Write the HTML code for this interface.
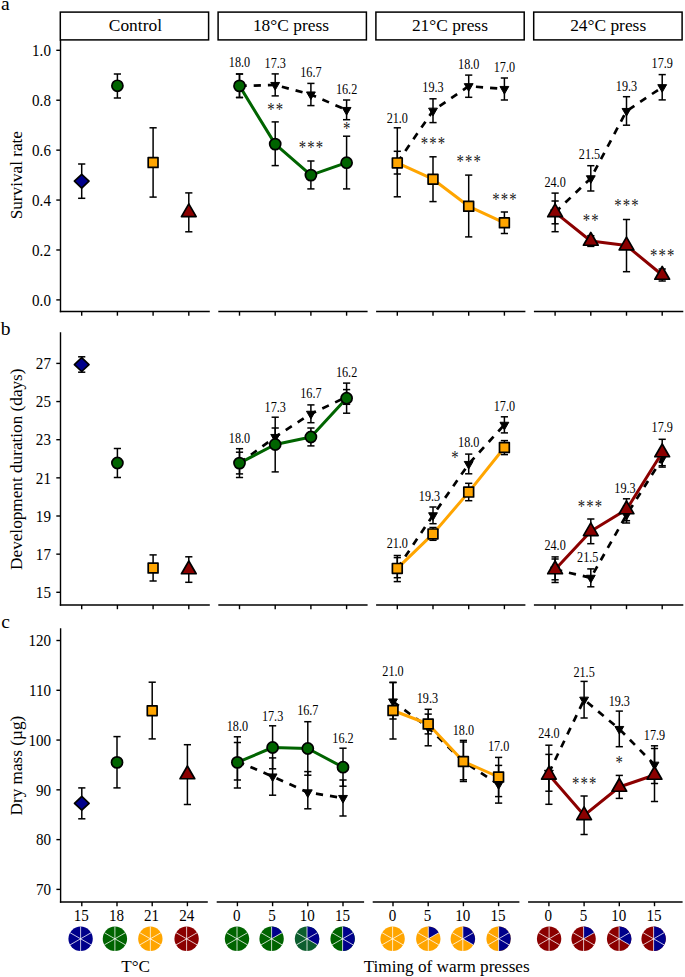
<!DOCTYPE html><html><head><meta charset="utf-8"><style>html,body{margin:0;padding:0;background:#fff;}svg{display:block;}</style></head><body>
<svg width="685" height="977" viewBox="0 0 685 977" font-family='"Liberation Serif", serif' fill="#000">
<rect width="685" height="977" fill="#fff"/>
<text x="1.00" y="9.60" font-size="19.5" text-anchor="start" >a</text>
<text x="0.80" y="334.60" font-size="19.5" text-anchor="start" >b</text>
<text x="1.20" y="627.50" font-size="19.5" text-anchor="start" >c</text>
<rect x="60.30" y="12.1" width="148.30" height="27.8" fill="#fff" stroke="#000" stroke-width="1.5"/>
<text x="135.40" y="30.80" font-size="17.4" text-anchor="middle" >Control</text>
<rect x="218.10" y="12.1" width="148.30" height="27.8" fill="#fff" stroke="#000" stroke-width="1.5"/>
<text x="290.95" y="30.80" font-size="17.4" text-anchor="middle" >18°C press</text>
<rect x="375.90" y="12.1" width="148.30" height="27.8" fill="#fff" stroke="#000" stroke-width="1.5"/>
<text x="449.90" y="30.80" font-size="17.4" text-anchor="middle" >21°C press</text>
<rect x="533.70" y="12.1" width="148.40" height="27.8" fill="#fff" stroke="#000" stroke-width="1.5"/>
<text x="608.15" y="30.80" font-size="17.4" text-anchor="middle" >24°C press</text>
<line x1="60.50" y1="40.00" x2="60.50" y2="312.20" stroke="#000" stroke-width="1.4" stroke-linecap="butt"/>
<line x1="56.30" y1="299.90" x2="60.50" y2="299.90" stroke="#000" stroke-width="1.4" />
<text transform="translate(50.90,305.65) scale(0.93,1)" font-size="16.2" text-anchor="end">0.0</text>
<line x1="56.30" y1="249.98" x2="60.50" y2="249.98" stroke="#000" stroke-width="1.4" />
<text transform="translate(50.90,255.73) scale(0.93,1)" font-size="16.2" text-anchor="end">0.2</text>
<line x1="56.30" y1="200.06" x2="60.50" y2="200.06" stroke="#000" stroke-width="1.4" />
<text transform="translate(50.90,205.81) scale(0.93,1)" font-size="16.2" text-anchor="end">0.4</text>
<line x1="56.30" y1="150.14" x2="60.50" y2="150.14" stroke="#000" stroke-width="1.4" />
<text transform="translate(50.90,155.89) scale(0.93,1)" font-size="16.2" text-anchor="end">0.6</text>
<line x1="56.30" y1="100.22" x2="60.50" y2="100.22" stroke="#000" stroke-width="1.4" />
<text transform="translate(50.90,105.97) scale(0.93,1)" font-size="16.2" text-anchor="end">0.8</text>
<line x1="56.30" y1="50.30" x2="60.50" y2="50.30" stroke="#000" stroke-width="1.4" />
<text transform="translate(50.90,56.05) scale(0.93,1)" font-size="16.2" text-anchor="end">1.0</text>
<line x1="59.80" y1="311.50" x2="209.80" y2="311.50" stroke="#000" stroke-width="1.4" />
<line x1="81.70" y1="311.50" x2="81.70" y2="315.70" stroke="#000" stroke-width="1.4" />
<line x1="117.40" y1="311.50" x2="117.40" y2="315.70" stroke="#000" stroke-width="1.4" />
<line x1="153.10" y1="311.50" x2="153.10" y2="315.70" stroke="#000" stroke-width="1.4" />
<line x1="188.80" y1="311.50" x2="188.80" y2="315.70" stroke="#000" stroke-width="1.4" />
<line x1="218.30" y1="311.50" x2="367.60" y2="311.50" stroke="#000" stroke-width="1.4" />
<line x1="239.50" y1="311.50" x2="239.50" y2="315.70" stroke="#000" stroke-width="1.4" />
<line x1="275.20" y1="311.50" x2="275.20" y2="315.70" stroke="#000" stroke-width="1.4" />
<line x1="310.90" y1="311.50" x2="310.90" y2="315.70" stroke="#000" stroke-width="1.4" />
<line x1="346.60" y1="311.50" x2="346.60" y2="315.70" stroke="#000" stroke-width="1.4" />
<line x1="376.10" y1="311.50" x2="525.40" y2="311.50" stroke="#000" stroke-width="1.4" />
<line x1="397.30" y1="311.50" x2="397.30" y2="315.70" stroke="#000" stroke-width="1.4" />
<line x1="433.00" y1="311.50" x2="433.00" y2="315.70" stroke="#000" stroke-width="1.4" />
<line x1="468.70" y1="311.50" x2="468.70" y2="315.70" stroke="#000" stroke-width="1.4" />
<line x1="504.40" y1="311.50" x2="504.40" y2="315.70" stroke="#000" stroke-width="1.4" />
<line x1="533.90" y1="311.50" x2="683.30" y2="311.50" stroke="#000" stroke-width="1.4" />
<line x1="555.10" y1="311.50" x2="555.10" y2="315.70" stroke="#000" stroke-width="1.4" />
<line x1="590.80" y1="311.50" x2="590.80" y2="315.70" stroke="#000" stroke-width="1.4" />
<line x1="626.50" y1="311.50" x2="626.50" y2="315.70" stroke="#000" stroke-width="1.4" />
<line x1="662.20" y1="311.50" x2="662.20" y2="315.70" stroke="#000" stroke-width="1.4" />
<line x1="81.70" y1="164.00" x2="81.70" y2="198.30" stroke="#000" stroke-width="1.5" />
<line x1="78.10" y1="164.00" x2="85.30" y2="164.00" stroke="#000" stroke-width="1.5" />
<line x1="78.10" y1="198.30" x2="85.30" y2="198.30" stroke="#000" stroke-width="1.5" />
<line x1="117.40" y1="74.00" x2="117.40" y2="98.00" stroke="#000" stroke-width="1.5" />
<line x1="113.80" y1="74.00" x2="121.00" y2="74.00" stroke="#000" stroke-width="1.5" />
<line x1="113.80" y1="98.00" x2="121.00" y2="98.00" stroke="#000" stroke-width="1.5" />
<line x1="153.10" y1="127.80" x2="153.10" y2="197.10" stroke="#000" stroke-width="1.5" />
<line x1="149.50" y1="127.80" x2="156.70" y2="127.80" stroke="#000" stroke-width="1.5" />
<line x1="149.50" y1="197.10" x2="156.70" y2="197.10" stroke="#000" stroke-width="1.5" />
<line x1="188.80" y1="192.90" x2="188.80" y2="231.80" stroke="#000" stroke-width="1.5" />
<line x1="185.20" y1="192.90" x2="192.40" y2="192.90" stroke="#000" stroke-width="1.5" />
<line x1="185.20" y1="231.80" x2="192.40" y2="231.80" stroke="#000" stroke-width="1.5" />
<path d="M81.70,174.30L89.00,181.20L81.70,188.10L74.40,181.20Z" fill="#00008b" stroke="#000" stroke-width="1.7" stroke-linejoin="round"/>
<circle cx="117.40" cy="85.80" r="5.55" fill="#006400" stroke="#000" stroke-width="1.7"/>
<rect x="148.20" y="157.60" width="9.80" height="9.80" fill="#ffa500" stroke="#000" stroke-width="1.7" stroke-linejoin="round"/>
<path d="M188.80,203.80L196.16,216.55L181.44,216.55Z" fill="#8b0000" stroke="#000" stroke-width="1.7" stroke-linejoin="round"/>
<path d="M239.50,85.90 L275.20,85.00 L310.90,94.50 L346.60,110.00" fill="none" stroke="#000" stroke-width="2.7" stroke-dasharray="7.2 7" stroke-linejoin="round"/>
<line x1="239.50" y1="74.00" x2="239.50" y2="97.50" stroke="#000" stroke-width="1.5" />
<line x1="235.90" y1="74.00" x2="243.10" y2="74.00" stroke="#000" stroke-width="1.5" />
<line x1="235.90" y1="97.50" x2="243.10" y2="97.50" stroke="#000" stroke-width="1.5" />
<line x1="275.20" y1="73.90" x2="275.20" y2="95.90" stroke="#000" stroke-width="1.5" />
<line x1="271.60" y1="73.90" x2="278.80" y2="73.90" stroke="#000" stroke-width="1.5" />
<line x1="271.60" y1="95.90" x2="278.80" y2="95.90" stroke="#000" stroke-width="1.5" />
<line x1="310.90" y1="83.40" x2="310.90" y2="105.60" stroke="#000" stroke-width="1.5" />
<line x1="307.30" y1="83.40" x2="314.50" y2="83.40" stroke="#000" stroke-width="1.5" />
<line x1="307.30" y1="105.60" x2="314.50" y2="105.60" stroke="#000" stroke-width="1.5" />
<line x1="346.60" y1="100.00" x2="346.60" y2="119.70" stroke="#000" stroke-width="1.5" />
<line x1="343.00" y1="100.00" x2="350.20" y2="100.00" stroke="#000" stroke-width="1.5" />
<line x1="343.00" y1="119.70" x2="350.20" y2="119.70" stroke="#000" stroke-width="1.5" />
<path d="M239.50,91.00L243.92,83.35L235.08,83.35Z" fill="#000" stroke="#000" stroke-width="1" stroke-linejoin="round"/>
<path d="M275.20,90.10L279.62,82.45L270.78,82.45Z" fill="#000" stroke="#000" stroke-width="1" stroke-linejoin="round"/>
<path d="M310.90,99.60L315.32,91.95L306.48,91.95Z" fill="#000" stroke="#000" stroke-width="1" stroke-linejoin="round"/>
<path d="M346.60,115.10L351.02,107.45L342.18,107.45Z" fill="#000" stroke="#000" stroke-width="1" stroke-linejoin="round"/>
<path d="M239.50,85.90 L275.20,144.10 L310.90,175.10 L346.60,162.70" fill="none" stroke="#006400" stroke-width="3.0" stroke-linejoin="round"/>
<line x1="239.50" y1="74.00" x2="239.50" y2="97.50" stroke="#000" stroke-width="1.5" />
<line x1="235.90" y1="74.00" x2="243.10" y2="74.00" stroke="#000" stroke-width="1.5" />
<line x1="235.90" y1="97.50" x2="243.10" y2="97.50" stroke="#000" stroke-width="1.5" />
<line x1="275.20" y1="121.90" x2="275.20" y2="165.60" stroke="#000" stroke-width="1.5" />
<line x1="271.60" y1="121.90" x2="278.80" y2="121.90" stroke="#000" stroke-width="1.5" />
<line x1="271.60" y1="165.60" x2="278.80" y2="165.60" stroke="#000" stroke-width="1.5" />
<line x1="310.90" y1="161.00" x2="310.90" y2="188.90" stroke="#000" stroke-width="1.5" />
<line x1="307.30" y1="161.00" x2="314.50" y2="161.00" stroke="#000" stroke-width="1.5" />
<line x1="307.30" y1="188.90" x2="314.50" y2="188.90" stroke="#000" stroke-width="1.5" />
<line x1="346.60" y1="136.20" x2="346.60" y2="188.90" stroke="#000" stroke-width="1.5" />
<line x1="343.00" y1="136.20" x2="350.20" y2="136.20" stroke="#000" stroke-width="1.5" />
<line x1="343.00" y1="188.90" x2="350.20" y2="188.90" stroke="#000" stroke-width="1.5" />
<circle cx="239.50" cy="85.90" r="5.55" fill="#006400" stroke="#000" stroke-width="1.7"/>
<circle cx="275.20" cy="144.10" r="5.55" fill="#006400" stroke="#000" stroke-width="1.7"/>
<circle cx="310.90" cy="175.10" r="5.55" fill="#006400" stroke="#000" stroke-width="1.7"/>
<circle cx="346.60" cy="162.70" r="5.55" fill="#006400" stroke="#000" stroke-width="1.7"/>
<text transform="translate(239.50,67.22) scale(0.87,1)" font-size="14.0" text-anchor="middle">18.0</text>
<text transform="translate(275.20,67.72) scale(0.87,1)" font-size="14.0" text-anchor="middle">17.3</text>
<text transform="translate(310.90,77.42) scale(0.87,1)" font-size="14.0" text-anchor="middle">16.7</text>
<text transform="translate(346.60,93.92) scale(0.87,1)" font-size="14.0" text-anchor="middle">16.2</text>
<text transform="translate(270.95,115.59) scale(0.82,1)" font-size="18.0" text-anchor="middle" fill="#222">*</text>
<text transform="translate(279.45,115.59) scale(0.82,1)" font-size="18.0" text-anchor="middle" fill="#222">*</text>
<text transform="translate(302.40,153.99) scale(0.82,1)" font-size="18.0" text-anchor="middle" fill="#222">*</text>
<text transform="translate(310.90,153.99) scale(0.82,1)" font-size="18.0" text-anchor="middle" fill="#222">*</text>
<text transform="translate(319.40,153.99) scale(0.82,1)" font-size="18.0" text-anchor="middle" fill="#222">*</text>
<text transform="translate(346.60,135.49) scale(0.82,1)" font-size="18.0" text-anchor="middle" fill="#222">*</text>
<path d="M397.30,162.70 L433.00,110.70 L468.70,86.20 L504.40,89.00" fill="none" stroke="#000" stroke-width="2.7" stroke-dasharray="7.2 7" stroke-linejoin="round"/>
<line x1="397.30" y1="151.30" x2="397.30" y2="174.00" stroke="#000" stroke-width="1.5" />
<line x1="393.70" y1="151.30" x2="400.90" y2="151.30" stroke="#000" stroke-width="1.5" />
<line x1="393.70" y1="174.00" x2="400.90" y2="174.00" stroke="#000" stroke-width="1.5" />
<line x1="433.00" y1="98.80" x2="433.00" y2="122.60" stroke="#000" stroke-width="1.5" />
<line x1="429.40" y1="98.80" x2="436.60" y2="98.80" stroke="#000" stroke-width="1.5" />
<line x1="429.40" y1="122.60" x2="436.60" y2="122.60" stroke="#000" stroke-width="1.5" />
<line x1="468.70" y1="75.10" x2="468.70" y2="97.30" stroke="#000" stroke-width="1.5" />
<line x1="465.10" y1="75.10" x2="472.30" y2="75.10" stroke="#000" stroke-width="1.5" />
<line x1="465.10" y1="97.30" x2="472.30" y2="97.30" stroke="#000" stroke-width="1.5" />
<line x1="504.40" y1="78.00" x2="504.40" y2="100.00" stroke="#000" stroke-width="1.5" />
<line x1="500.80" y1="78.00" x2="508.00" y2="78.00" stroke="#000" stroke-width="1.5" />
<line x1="500.80" y1="100.00" x2="508.00" y2="100.00" stroke="#000" stroke-width="1.5" />
<path d="M397.30,167.80L401.72,160.15L392.88,160.15Z" fill="#000" stroke="#000" stroke-width="1" stroke-linejoin="round"/>
<path d="M433.00,115.80L437.42,108.15L428.58,108.15Z" fill="#000" stroke="#000" stroke-width="1" stroke-linejoin="round"/>
<path d="M468.70,91.30L473.12,83.65L464.28,83.65Z" fill="#000" stroke="#000" stroke-width="1" stroke-linejoin="round"/>
<path d="M504.40,94.10L508.82,86.45L499.98,86.45Z" fill="#000" stroke="#000" stroke-width="1" stroke-linejoin="round"/>
<path d="M397.30,162.90 L433.00,179.20 L468.70,206.30 L504.40,222.80" fill="none" stroke="#ffa500" stroke-width="3.0" stroke-linejoin="round"/>
<line x1="397.30" y1="127.80" x2="397.30" y2="196.80" stroke="#000" stroke-width="1.5" />
<line x1="393.70" y1="127.80" x2="400.90" y2="127.80" stroke="#000" stroke-width="1.5" />
<line x1="393.70" y1="196.80" x2="400.90" y2="196.80" stroke="#000" stroke-width="1.5" />
<line x1="433.00" y1="156.80" x2="433.00" y2="201.60" stroke="#000" stroke-width="1.5" />
<line x1="429.40" y1="156.80" x2="436.60" y2="156.80" stroke="#000" stroke-width="1.5" />
<line x1="429.40" y1="201.60" x2="436.60" y2="201.60" stroke="#000" stroke-width="1.5" />
<line x1="468.70" y1="175.10" x2="468.70" y2="236.90" stroke="#000" stroke-width="1.5" />
<line x1="465.10" y1="175.10" x2="472.30" y2="175.10" stroke="#000" stroke-width="1.5" />
<line x1="465.10" y1="236.90" x2="472.30" y2="236.90" stroke="#000" stroke-width="1.5" />
<line x1="504.40" y1="212.00" x2="504.40" y2="233.50" stroke="#000" stroke-width="1.5" />
<line x1="500.80" y1="212.00" x2="508.00" y2="212.00" stroke="#000" stroke-width="1.5" />
<line x1="500.80" y1="233.50" x2="508.00" y2="233.50" stroke="#000" stroke-width="1.5" />
<rect x="392.40" y="158.00" width="9.80" height="9.80" fill="#ffa500" stroke="#000" stroke-width="1.7" stroke-linejoin="round"/>
<rect x="428.10" y="174.30" width="9.80" height="9.80" fill="#ffa500" stroke="#000" stroke-width="1.7" stroke-linejoin="round"/>
<rect x="463.80" y="201.40" width="9.80" height="9.80" fill="#ffa500" stroke="#000" stroke-width="1.7" stroke-linejoin="round"/>
<rect x="499.50" y="217.90" width="9.80" height="9.80" fill="#ffa500" stroke="#000" stroke-width="1.7" stroke-linejoin="round"/>
<text transform="translate(397.30,122.62) scale(0.87,1)" font-size="14.0" text-anchor="middle">21.0</text>
<text transform="translate(433.00,91.62) scale(0.87,1)" font-size="14.0" text-anchor="middle">19.3</text>
<text transform="translate(468.70,69.02) scale(0.87,1)" font-size="14.0" text-anchor="middle">18.0</text>
<text transform="translate(504.40,72.22) scale(0.87,1)" font-size="14.0" text-anchor="middle">17.0</text>
<text transform="translate(424.50,150.19) scale(0.82,1)" font-size="18.0" text-anchor="middle" fill="#222">*</text>
<text transform="translate(433.00,150.19) scale(0.82,1)" font-size="18.0" text-anchor="middle" fill="#222">*</text>
<text transform="translate(441.50,150.19) scale(0.82,1)" font-size="18.0" text-anchor="middle" fill="#222">*</text>
<text transform="translate(460.20,168.29) scale(0.82,1)" font-size="18.0" text-anchor="middle" fill="#222">*</text>
<text transform="translate(468.70,168.29) scale(0.82,1)" font-size="18.0" text-anchor="middle" fill="#222">*</text>
<text transform="translate(477.20,168.29) scale(0.82,1)" font-size="18.0" text-anchor="middle" fill="#222">*</text>
<text transform="translate(495.90,205.59) scale(0.82,1)" font-size="18.0" text-anchor="middle" fill="#222">*</text>
<text transform="translate(504.40,205.59) scale(0.82,1)" font-size="18.0" text-anchor="middle" fill="#222">*</text>
<text transform="translate(512.90,205.59) scale(0.82,1)" font-size="18.0" text-anchor="middle" fill="#222">*</text>
<path d="M555.10,212.40 L590.80,178.30 L626.50,111.00 L662.20,87.20" fill="none" stroke="#000" stroke-width="2.7" stroke-dasharray="7.2 7" stroke-linejoin="round"/>
<line x1="555.10" y1="201.00" x2="555.10" y2="223.80" stroke="#000" stroke-width="1.5" />
<line x1="551.50" y1="201.00" x2="558.70" y2="201.00" stroke="#000" stroke-width="1.5" />
<line x1="551.50" y1="223.80" x2="558.70" y2="223.80" stroke="#000" stroke-width="1.5" />
<line x1="590.80" y1="165.70" x2="590.80" y2="191.00" stroke="#000" stroke-width="1.5" />
<line x1="587.20" y1="165.70" x2="594.40" y2="165.70" stroke="#000" stroke-width="1.5" />
<line x1="587.20" y1="191.00" x2="594.40" y2="191.00" stroke="#000" stroke-width="1.5" />
<line x1="626.50" y1="96.70" x2="626.50" y2="125.20" stroke="#000" stroke-width="1.5" />
<line x1="622.90" y1="96.70" x2="630.10" y2="96.70" stroke="#000" stroke-width="1.5" />
<line x1="622.90" y1="125.20" x2="630.10" y2="125.20" stroke="#000" stroke-width="1.5" />
<line x1="662.20" y1="74.60" x2="662.20" y2="99.90" stroke="#000" stroke-width="1.5" />
<line x1="658.60" y1="74.60" x2="665.80" y2="74.60" stroke="#000" stroke-width="1.5" />
<line x1="658.60" y1="99.90" x2="665.80" y2="99.90" stroke="#000" stroke-width="1.5" />
<path d="M555.10,217.50L559.52,209.85L550.68,209.85Z" fill="#000" stroke="#000" stroke-width="1" stroke-linejoin="round"/>
<path d="M590.80,183.40L595.22,175.75L586.38,175.75Z" fill="#000" stroke="#000" stroke-width="1" stroke-linejoin="round"/>
<path d="M626.50,116.10L630.92,108.45L622.08,108.45Z" fill="#000" stroke="#000" stroke-width="1" stroke-linejoin="round"/>
<path d="M662.20,92.30L666.62,84.65L657.78,84.65Z" fill="#000" stroke="#000" stroke-width="1" stroke-linejoin="round"/>
<path d="M555.10,212.40 L590.80,241.00 L626.50,245.60 L662.20,275.00" fill="none" stroke="#8b0000" stroke-width="3.0" stroke-linejoin="round"/>
<line x1="555.10" y1="193.10" x2="555.10" y2="231.70" stroke="#000" stroke-width="1.5" />
<line x1="551.50" y1="193.10" x2="558.70" y2="193.10" stroke="#000" stroke-width="1.5" />
<line x1="551.50" y1="231.70" x2="558.70" y2="231.70" stroke="#000" stroke-width="1.5" />
<line x1="590.80" y1="235.70" x2="590.80" y2="246.40" stroke="#000" stroke-width="1.5" />
<line x1="587.20" y1="235.70" x2="594.40" y2="235.70" stroke="#000" stroke-width="1.5" />
<line x1="587.20" y1="246.40" x2="594.40" y2="246.40" stroke="#000" stroke-width="1.5" />
<line x1="626.50" y1="219.50" x2="626.50" y2="271.70" stroke="#000" stroke-width="1.5" />
<line x1="622.90" y1="219.50" x2="630.10" y2="219.50" stroke="#000" stroke-width="1.5" />
<line x1="622.90" y1="271.70" x2="630.10" y2="271.70" stroke="#000" stroke-width="1.5" />
<line x1="662.20" y1="269.00" x2="662.20" y2="281.00" stroke="#000" stroke-width="1.5" />
<line x1="658.60" y1="269.00" x2="665.80" y2="269.00" stroke="#000" stroke-width="1.5" />
<line x1="658.60" y1="281.00" x2="665.80" y2="281.00" stroke="#000" stroke-width="1.5" />
<path d="M555.10,203.90L562.46,216.65L547.74,216.65Z" fill="#8b0000" stroke="#000" stroke-width="1.7" stroke-linejoin="round"/>
<path d="M590.80,232.50L598.16,245.25L583.44,245.25Z" fill="#8b0000" stroke="#000" stroke-width="1.7" stroke-linejoin="round"/>
<path d="M626.50,237.10L633.86,249.85L619.14,249.85Z" fill="#8b0000" stroke="#000" stroke-width="1.7" stroke-linejoin="round"/>
<path d="M662.20,266.50L669.56,279.25L654.84,279.25Z" fill="#8b0000" stroke="#000" stroke-width="1.7" stroke-linejoin="round"/>
<text transform="translate(555.10,187.12) scale(0.87,1)" font-size="14.0" text-anchor="middle">24.0</text>
<text transform="translate(589.50,159.12) scale(0.87,1)" font-size="14.0" text-anchor="middle">21.5</text>
<text transform="translate(626.50,91.22) scale(0.87,1)" font-size="14.0" text-anchor="middle">19.3</text>
<text transform="translate(662.20,68.02) scale(0.87,1)" font-size="14.0" text-anchor="middle">17.9</text>
<text transform="translate(586.55,226.59) scale(0.82,1)" font-size="18.0" text-anchor="middle" fill="#222">*</text>
<text transform="translate(595.05,226.59) scale(0.82,1)" font-size="18.0" text-anchor="middle" fill="#222">*</text>
<text transform="translate(618.00,212.49) scale(0.82,1)" font-size="18.0" text-anchor="middle" fill="#222">*</text>
<text transform="translate(626.50,212.49) scale(0.82,1)" font-size="18.0" text-anchor="middle" fill="#222">*</text>
<text transform="translate(635.00,212.49) scale(0.82,1)" font-size="18.0" text-anchor="middle" fill="#222">*</text>
<text transform="translate(653.70,261.99) scale(0.82,1)" font-size="18.0" text-anchor="middle" fill="#222">*</text>
<text transform="translate(662.20,261.99) scale(0.82,1)" font-size="18.0" text-anchor="middle" fill="#222">*</text>
<text transform="translate(670.70,261.99) scale(0.82,1)" font-size="18.0" text-anchor="middle" fill="#222">*</text>
<line x1="60.50" y1="332.30" x2="60.50" y2="605.70" stroke="#000" stroke-width="1.4" stroke-linecap="butt"/>
<line x1="56.30" y1="592.30" x2="60.50" y2="592.30" stroke="#000" stroke-width="1.4" />
<text transform="translate(50.90,598.05) scale(0.93,1)" font-size="16.2" text-anchor="end">15</text>
<line x1="56.30" y1="554.15" x2="60.50" y2="554.15" stroke="#000" stroke-width="1.4" />
<text transform="translate(50.90,559.90) scale(0.93,1)" font-size="16.2" text-anchor="end">17</text>
<line x1="56.30" y1="516.00" x2="60.50" y2="516.00" stroke="#000" stroke-width="1.4" />
<text transform="translate(50.90,521.75) scale(0.93,1)" font-size="16.2" text-anchor="end">19</text>
<line x1="56.30" y1="477.85" x2="60.50" y2="477.85" stroke="#000" stroke-width="1.4" />
<text transform="translate(50.90,483.60) scale(0.93,1)" font-size="16.2" text-anchor="end">21</text>
<line x1="56.30" y1="439.70" x2="60.50" y2="439.70" stroke="#000" stroke-width="1.4" />
<text transform="translate(50.90,445.45) scale(0.93,1)" font-size="16.2" text-anchor="end">23</text>
<line x1="56.30" y1="401.55" x2="60.50" y2="401.55" stroke="#000" stroke-width="1.4" />
<text transform="translate(50.90,407.30) scale(0.93,1)" font-size="16.2" text-anchor="end">25</text>
<line x1="56.30" y1="363.40" x2="60.50" y2="363.40" stroke="#000" stroke-width="1.4" />
<text transform="translate(50.90,369.15) scale(0.93,1)" font-size="16.2" text-anchor="end">27</text>
<line x1="59.80" y1="605.00" x2="209.80" y2="605.00" stroke="#000" stroke-width="1.4" />
<line x1="81.70" y1="605.00" x2="81.70" y2="609.20" stroke="#000" stroke-width="1.4" />
<line x1="117.40" y1="605.00" x2="117.40" y2="609.20" stroke="#000" stroke-width="1.4" />
<line x1="153.10" y1="605.00" x2="153.10" y2="609.20" stroke="#000" stroke-width="1.4" />
<line x1="188.80" y1="605.00" x2="188.80" y2="609.20" stroke="#000" stroke-width="1.4" />
<line x1="218.30" y1="605.00" x2="367.60" y2="605.00" stroke="#000" stroke-width="1.4" />
<line x1="239.50" y1="605.00" x2="239.50" y2="609.20" stroke="#000" stroke-width="1.4" />
<line x1="275.20" y1="605.00" x2="275.20" y2="609.20" stroke="#000" stroke-width="1.4" />
<line x1="310.90" y1="605.00" x2="310.90" y2="609.20" stroke="#000" stroke-width="1.4" />
<line x1="346.60" y1="605.00" x2="346.60" y2="609.20" stroke="#000" stroke-width="1.4" />
<line x1="376.10" y1="605.00" x2="525.40" y2="605.00" stroke="#000" stroke-width="1.4" />
<line x1="397.30" y1="605.00" x2="397.30" y2="609.20" stroke="#000" stroke-width="1.4" />
<line x1="433.00" y1="605.00" x2="433.00" y2="609.20" stroke="#000" stroke-width="1.4" />
<line x1="468.70" y1="605.00" x2="468.70" y2="609.20" stroke="#000" stroke-width="1.4" />
<line x1="504.40" y1="605.00" x2="504.40" y2="609.20" stroke="#000" stroke-width="1.4" />
<line x1="533.90" y1="605.00" x2="683.30" y2="605.00" stroke="#000" stroke-width="1.4" />
<line x1="555.10" y1="605.00" x2="555.10" y2="609.20" stroke="#000" stroke-width="1.4" />
<line x1="590.80" y1="605.00" x2="590.80" y2="609.20" stroke="#000" stroke-width="1.4" />
<line x1="626.50" y1="605.00" x2="626.50" y2="609.20" stroke="#000" stroke-width="1.4" />
<line x1="662.20" y1="605.00" x2="662.20" y2="609.20" stroke="#000" stroke-width="1.4" />
<line x1="81.70" y1="356.80" x2="81.70" y2="372.20" stroke="#000" stroke-width="1.5" />
<line x1="78.10" y1="356.80" x2="85.30" y2="356.80" stroke="#000" stroke-width="1.5" />
<line x1="78.10" y1="372.20" x2="85.30" y2="372.20" stroke="#000" stroke-width="1.5" />
<line x1="117.40" y1="448.50" x2="117.40" y2="477.50" stroke="#000" stroke-width="1.5" />
<line x1="113.80" y1="448.50" x2="121.00" y2="448.50" stroke="#000" stroke-width="1.5" />
<line x1="113.80" y1="477.50" x2="121.00" y2="477.50" stroke="#000" stroke-width="1.5" />
<line x1="153.10" y1="554.90" x2="153.10" y2="581.00" stroke="#000" stroke-width="1.5" />
<line x1="149.50" y1="554.90" x2="156.70" y2="554.90" stroke="#000" stroke-width="1.5" />
<line x1="149.50" y1="581.00" x2="156.70" y2="581.00" stroke="#000" stroke-width="1.5" />
<line x1="188.80" y1="556.80" x2="188.80" y2="582.30" stroke="#000" stroke-width="1.5" />
<line x1="185.20" y1="556.80" x2="192.40" y2="556.80" stroke="#000" stroke-width="1.5" />
<line x1="185.20" y1="582.30" x2="192.40" y2="582.30" stroke="#000" stroke-width="1.5" />
<path d="M81.70,357.70L89.00,364.60L81.70,371.50L74.40,364.60Z" fill="#00008b" stroke="#000" stroke-width="1.7" stroke-linejoin="round"/>
<circle cx="117.40" cy="463.00" r="5.55" fill="#006400" stroke="#000" stroke-width="1.7"/>
<rect x="148.20" y="563.10" width="9.80" height="9.80" fill="#ffa500" stroke="#000" stroke-width="1.7" stroke-linejoin="round"/>
<path d="M188.80,561.00L196.16,573.75L181.44,573.75Z" fill="#8b0000" stroke="#000" stroke-width="1.7" stroke-linejoin="round"/>
<path d="M239.50,463.10 L275.20,437.00 L310.90,413.80 L346.60,397.00" fill="none" stroke="#000" stroke-width="2.7" stroke-dasharray="7.2 7" stroke-linejoin="round"/>
<line x1="239.50" y1="452.20" x2="239.50" y2="473.90" stroke="#000" stroke-width="1.5" />
<line x1="235.90" y1="452.20" x2="243.10" y2="452.20" stroke="#000" stroke-width="1.5" />
<line x1="235.90" y1="473.90" x2="243.10" y2="473.90" stroke="#000" stroke-width="1.5" />
<line x1="275.20" y1="428.00" x2="275.20" y2="446.00" stroke="#000" stroke-width="1.5" />
<line x1="271.60" y1="428.00" x2="278.80" y2="428.00" stroke="#000" stroke-width="1.5" />
<line x1="271.60" y1="446.00" x2="278.80" y2="446.00" stroke="#000" stroke-width="1.5" />
<line x1="310.90" y1="404.90" x2="310.90" y2="422.70" stroke="#000" stroke-width="1.5" />
<line x1="307.30" y1="404.90" x2="314.50" y2="404.90" stroke="#000" stroke-width="1.5" />
<line x1="307.30" y1="422.70" x2="314.50" y2="422.70" stroke="#000" stroke-width="1.5" />
<line x1="346.60" y1="389.60" x2="346.60" y2="404.30" stroke="#000" stroke-width="1.5" />
<line x1="343.00" y1="389.60" x2="350.20" y2="389.60" stroke="#000" stroke-width="1.5" />
<line x1="343.00" y1="404.30" x2="350.20" y2="404.30" stroke="#000" stroke-width="1.5" />
<path d="M239.50,468.20L243.92,460.55L235.08,460.55Z" fill="#000" stroke="#000" stroke-width="1" stroke-linejoin="round"/>
<path d="M275.20,442.10L279.62,434.45L270.78,434.45Z" fill="#000" stroke="#000" stroke-width="1" stroke-linejoin="round"/>
<path d="M310.90,418.90L315.32,411.25L306.48,411.25Z" fill="#000" stroke="#000" stroke-width="1" stroke-linejoin="round"/>
<path d="M346.60,402.10L351.02,394.45L342.18,394.45Z" fill="#000" stroke="#000" stroke-width="1" stroke-linejoin="round"/>
<path d="M239.50,463.10 L275.20,444.50 L310.90,437.00 L346.60,398.20" fill="none" stroke="#006400" stroke-width="3.0" stroke-linejoin="round"/>
<line x1="239.50" y1="448.70" x2="239.50" y2="477.50" stroke="#000" stroke-width="1.5" />
<line x1="235.90" y1="448.70" x2="243.10" y2="448.70" stroke="#000" stroke-width="1.5" />
<line x1="235.90" y1="477.50" x2="243.10" y2="477.50" stroke="#000" stroke-width="1.5" />
<line x1="275.20" y1="417.20" x2="275.20" y2="471.90" stroke="#000" stroke-width="1.5" />
<line x1="271.60" y1="417.20" x2="278.80" y2="417.20" stroke="#000" stroke-width="1.5" />
<line x1="271.60" y1="471.90" x2="278.80" y2="471.90" stroke="#000" stroke-width="1.5" />
<line x1="310.90" y1="428.00" x2="310.90" y2="445.90" stroke="#000" stroke-width="1.5" />
<line x1="307.30" y1="428.00" x2="314.50" y2="428.00" stroke="#000" stroke-width="1.5" />
<line x1="307.30" y1="445.90" x2="314.50" y2="445.90" stroke="#000" stroke-width="1.5" />
<line x1="346.60" y1="383.10" x2="346.60" y2="413.20" stroke="#000" stroke-width="1.5" />
<line x1="343.00" y1="383.10" x2="350.20" y2="383.10" stroke="#000" stroke-width="1.5" />
<line x1="343.00" y1="413.20" x2="350.20" y2="413.20" stroke="#000" stroke-width="1.5" />
<circle cx="239.50" cy="463.10" r="5.55" fill="#006400" stroke="#000" stroke-width="1.7"/>
<circle cx="275.20" cy="444.50" r="5.55" fill="#006400" stroke="#000" stroke-width="1.7"/>
<circle cx="310.90" cy="437.00" r="5.55" fill="#006400" stroke="#000" stroke-width="1.7"/>
<circle cx="346.60" cy="398.20" r="5.55" fill="#006400" stroke="#000" stroke-width="1.7"/>
<text transform="translate(239.50,443.42) scale(0.87,1)" font-size="14.0" text-anchor="middle">18.0</text>
<text transform="translate(275.20,411.92) scale(0.87,1)" font-size="14.0" text-anchor="middle">17.3</text>
<text transform="translate(310.90,397.72) scale(0.87,1)" font-size="14.0" text-anchor="middle">16.7</text>
<text transform="translate(346.60,376.82) scale(0.87,1)" font-size="14.0" text-anchor="middle">16.2</text>
<path d="M397.30,568.40 L433.00,515.30 L468.70,464.00 L504.40,424.80" fill="none" stroke="#000" stroke-width="2.7" stroke-dasharray="7.2 7" stroke-linejoin="round"/>
<line x1="397.30" y1="557.60" x2="397.30" y2="577.70" stroke="#000" stroke-width="1.5" />
<line x1="393.70" y1="557.60" x2="400.90" y2="557.60" stroke="#000" stroke-width="1.5" />
<line x1="393.70" y1="577.70" x2="400.90" y2="577.70" stroke="#000" stroke-width="1.5" />
<line x1="433.00" y1="507.00" x2="433.00" y2="523.70" stroke="#000" stroke-width="1.5" />
<line x1="429.40" y1="507.00" x2="436.60" y2="507.00" stroke="#000" stroke-width="1.5" />
<line x1="429.40" y1="523.70" x2="436.60" y2="523.70" stroke="#000" stroke-width="1.5" />
<line x1="468.70" y1="454.10" x2="468.70" y2="473.80" stroke="#000" stroke-width="1.5" />
<line x1="465.10" y1="454.10" x2="472.30" y2="454.10" stroke="#000" stroke-width="1.5" />
<line x1="465.10" y1="473.80" x2="472.30" y2="473.80" stroke="#000" stroke-width="1.5" />
<line x1="504.40" y1="416.80" x2="504.40" y2="432.90" stroke="#000" stroke-width="1.5" />
<line x1="500.80" y1="416.80" x2="508.00" y2="416.80" stroke="#000" stroke-width="1.5" />
<line x1="500.80" y1="432.90" x2="508.00" y2="432.90" stroke="#000" stroke-width="1.5" />
<path d="M397.30,573.50L401.72,565.85L392.88,565.85Z" fill="#000" stroke="#000" stroke-width="1" stroke-linejoin="round"/>
<path d="M433.00,520.40L437.42,512.75L428.58,512.75Z" fill="#000" stroke="#000" stroke-width="1" stroke-linejoin="round"/>
<path d="M468.70,469.10L473.12,461.45L464.28,461.45Z" fill="#000" stroke="#000" stroke-width="1" stroke-linejoin="round"/>
<path d="M504.40,429.90L508.82,422.25L499.98,422.25Z" fill="#000" stroke="#000" stroke-width="1" stroke-linejoin="round"/>
<path d="M397.30,568.40 L433.00,533.90 L468.70,492.10 L504.40,447.50" fill="none" stroke="#ffa500" stroke-width="3.0" stroke-linejoin="round"/>
<line x1="397.30" y1="555.50" x2="397.30" y2="581.60" stroke="#000" stroke-width="1.5" />
<line x1="393.70" y1="555.50" x2="400.90" y2="555.50" stroke="#000" stroke-width="1.5" />
<line x1="393.70" y1="581.60" x2="400.90" y2="581.60" stroke="#000" stroke-width="1.5" />
<line x1="433.00" y1="527.50" x2="433.00" y2="540.30" stroke="#000" stroke-width="1.5" />
<line x1="429.40" y1="527.50" x2="436.60" y2="527.50" stroke="#000" stroke-width="1.5" />
<line x1="429.40" y1="540.30" x2="436.60" y2="540.30" stroke="#000" stroke-width="1.5" />
<line x1="468.70" y1="483.30" x2="468.70" y2="500.70" stroke="#000" stroke-width="1.5" />
<line x1="465.10" y1="483.30" x2="472.30" y2="483.30" stroke="#000" stroke-width="1.5" />
<line x1="465.10" y1="500.70" x2="472.30" y2="500.70" stroke="#000" stroke-width="1.5" />
<line x1="504.40" y1="440.60" x2="504.40" y2="454.60" stroke="#000" stroke-width="1.5" />
<line x1="500.80" y1="440.60" x2="508.00" y2="440.60" stroke="#000" stroke-width="1.5" />
<line x1="500.80" y1="454.60" x2="508.00" y2="454.60" stroke="#000" stroke-width="1.5" />
<rect x="392.40" y="563.50" width="9.80" height="9.80" fill="#ffa500" stroke="#000" stroke-width="1.7" stroke-linejoin="round"/>
<rect x="428.10" y="529.00" width="9.80" height="9.80" fill="#ffa500" stroke="#000" stroke-width="1.7" stroke-linejoin="round"/>
<rect x="463.80" y="487.20" width="9.80" height="9.80" fill="#ffa500" stroke="#000" stroke-width="1.7" stroke-linejoin="round"/>
<rect x="499.50" y="442.60" width="9.80" height="9.80" fill="#ffa500" stroke="#000" stroke-width="1.7" stroke-linejoin="round"/>
<text transform="translate(397.30,547.82) scale(0.87,1)" font-size="14.0" text-anchor="middle">21.0</text>
<text transform="translate(429.50,501.42) scale(0.87,1)" font-size="14.0" text-anchor="middle">19.3</text>
<text transform="translate(468.70,447.22) scale(0.87,1)" font-size="14.0" text-anchor="middle">18.0</text>
<text transform="translate(504.40,410.62) scale(0.87,1)" font-size="14.0" text-anchor="middle">17.0</text>
<text transform="translate(454.90,463.59) scale(0.82,1)" font-size="18.0" text-anchor="middle" fill="#222">*</text>
<path d="M555.10,569.50 L590.80,577.80 L626.50,515.00 L662.20,458.50" fill="none" stroke="#000" stroke-width="2.7" stroke-dasharray="7.2 7" stroke-linejoin="round"/>
<line x1="555.10" y1="559.00" x2="555.10" y2="579.80" stroke="#000" stroke-width="1.5" />
<line x1="551.50" y1="559.00" x2="558.70" y2="559.00" stroke="#000" stroke-width="1.5" />
<line x1="551.50" y1="579.80" x2="558.70" y2="579.80" stroke="#000" stroke-width="1.5" />
<line x1="590.80" y1="568.90" x2="590.80" y2="586.80" stroke="#000" stroke-width="1.5" />
<line x1="587.20" y1="568.90" x2="594.40" y2="568.90" stroke="#000" stroke-width="1.5" />
<line x1="587.20" y1="586.80" x2="594.40" y2="586.80" stroke="#000" stroke-width="1.5" />
<line x1="626.50" y1="506.00" x2="626.50" y2="523.00" stroke="#000" stroke-width="1.5" />
<line x1="622.90" y1="506.00" x2="630.10" y2="506.00" stroke="#000" stroke-width="1.5" />
<line x1="622.90" y1="523.00" x2="630.10" y2="523.00" stroke="#000" stroke-width="1.5" />
<line x1="662.20" y1="450.00" x2="662.20" y2="467.10" stroke="#000" stroke-width="1.5" />
<line x1="658.60" y1="450.00" x2="665.80" y2="450.00" stroke="#000" stroke-width="1.5" />
<line x1="658.60" y1="467.10" x2="665.80" y2="467.10" stroke="#000" stroke-width="1.5" />
<path d="M555.10,574.60L559.52,566.95L550.68,566.95Z" fill="#000" stroke="#000" stroke-width="1" stroke-linejoin="round"/>
<path d="M590.80,582.90L595.22,575.25L586.38,575.25Z" fill="#000" stroke="#000" stroke-width="1" stroke-linejoin="round"/>
<path d="M626.50,520.10L630.92,512.45L622.08,512.45Z" fill="#000" stroke="#000" stroke-width="1" stroke-linejoin="round"/>
<path d="M662.20,463.60L666.62,455.95L657.78,455.95Z" fill="#000" stroke="#000" stroke-width="1" stroke-linejoin="round"/>
<path d="M555.10,569.50 L590.80,531.30 L626.50,509.50 L662.20,452.50" fill="none" stroke="#8b0000" stroke-width="3.0" stroke-linejoin="round"/>
<line x1="555.10" y1="556.90" x2="555.10" y2="582.50" stroke="#000" stroke-width="1.5" />
<line x1="551.50" y1="556.90" x2="558.70" y2="556.90" stroke="#000" stroke-width="1.5" />
<line x1="551.50" y1="582.50" x2="558.70" y2="582.50" stroke="#000" stroke-width="1.5" />
<line x1="590.80" y1="519.00" x2="590.80" y2="543.70" stroke="#000" stroke-width="1.5" />
<line x1="587.20" y1="519.00" x2="594.40" y2="519.00" stroke="#000" stroke-width="1.5" />
<line x1="587.20" y1="543.70" x2="594.40" y2="543.70" stroke="#000" stroke-width="1.5" />
<line x1="626.50" y1="498.80" x2="626.50" y2="520.70" stroke="#000" stroke-width="1.5" />
<line x1="622.90" y1="498.80" x2="630.10" y2="498.80" stroke="#000" stroke-width="1.5" />
<line x1="622.90" y1="520.70" x2="630.10" y2="520.70" stroke="#000" stroke-width="1.5" />
<line x1="662.20" y1="439.30" x2="662.20" y2="465.70" stroke="#000" stroke-width="1.5" />
<line x1="658.60" y1="439.30" x2="665.80" y2="439.30" stroke="#000" stroke-width="1.5" />
<line x1="658.60" y1="465.70" x2="665.80" y2="465.70" stroke="#000" stroke-width="1.5" />
<path d="M555.10,561.00L562.46,573.75L547.74,573.75Z" fill="#8b0000" stroke="#000" stroke-width="1.7" stroke-linejoin="round"/>
<path d="M590.80,522.80L598.16,535.55L583.44,535.55Z" fill="#8b0000" stroke="#000" stroke-width="1.7" stroke-linejoin="round"/>
<path d="M626.50,501.00L633.86,513.75L619.14,513.75Z" fill="#8b0000" stroke="#000" stroke-width="1.7" stroke-linejoin="round"/>
<path d="M662.20,444.00L669.56,456.75L654.84,456.75Z" fill="#8b0000" stroke="#000" stroke-width="1.7" stroke-linejoin="round"/>
<text transform="translate(555.10,549.82) scale(0.87,1)" font-size="14.0" text-anchor="middle">24.0</text>
<text transform="translate(587.70,562.12) scale(0.87,1)" font-size="14.0" text-anchor="middle">21.5</text>
<text transform="translate(625.00,492.92) scale(0.87,1)" font-size="14.0" text-anchor="middle">19.3</text>
<text transform="translate(662.20,431.62) scale(0.87,1)" font-size="14.0" text-anchor="middle">17.9</text>
<text transform="translate(581.40,512.69) scale(0.82,1)" font-size="18.0" text-anchor="middle" fill="#222">*</text>
<text transform="translate(589.90,512.69) scale(0.82,1)" font-size="18.0" text-anchor="middle" fill="#222">*</text>
<text transform="translate(598.40,512.69) scale(0.82,1)" font-size="18.0" text-anchor="middle" fill="#222">*</text>
<line x1="60.60" y1="628.20" x2="60.60" y2="902.70" stroke="#000" stroke-width="1.4" stroke-linecap="butt"/>
<line x1="56.40" y1="889.40" x2="60.60" y2="889.40" stroke="#000" stroke-width="1.4" />
<text transform="translate(51.00,895.15) scale(0.93,1)" font-size="16.2" text-anchor="end">70</text>
<line x1="56.40" y1="839.62" x2="60.60" y2="839.62" stroke="#000" stroke-width="1.4" />
<text transform="translate(51.00,845.37) scale(0.93,1)" font-size="16.2" text-anchor="end">80</text>
<line x1="56.40" y1="789.84" x2="60.60" y2="789.84" stroke="#000" stroke-width="1.4" />
<text transform="translate(51.00,795.59) scale(0.93,1)" font-size="16.2" text-anchor="end">90</text>
<line x1="56.40" y1="740.06" x2="60.60" y2="740.06" stroke="#000" stroke-width="1.4" />
<text transform="translate(51.00,745.81) scale(0.93,1)" font-size="16.2" text-anchor="end">100</text>
<line x1="56.40" y1="690.28" x2="60.60" y2="690.28" stroke="#000" stroke-width="1.4" />
<text transform="translate(51.00,696.03) scale(0.93,1)" font-size="16.2" text-anchor="end">110</text>
<line x1="56.40" y1="640.50" x2="60.60" y2="640.50" stroke="#000" stroke-width="1.4" />
<text transform="translate(51.00,646.25) scale(0.93,1)" font-size="16.2" text-anchor="end">120</text>
<line x1="59.90" y1="902.00" x2="207.80" y2="902.00" stroke="#000" stroke-width="1.4" />
<line x1="81.80" y1="902.00" x2="81.80" y2="906.20" stroke="#000" stroke-width="1.4" />
<line x1="117.00" y1="902.00" x2="117.00" y2="906.20" stroke="#000" stroke-width="1.4" />
<line x1="152.20" y1="902.00" x2="152.20" y2="906.20" stroke="#000" stroke-width="1.4" />
<line x1="187.40" y1="902.00" x2="187.40" y2="906.20" stroke="#000" stroke-width="1.4" />
<line x1="216.70" y1="902.00" x2="364.10" y2="902.00" stroke="#000" stroke-width="1.4" />
<line x1="237.40" y1="902.00" x2="237.40" y2="906.20" stroke="#000" stroke-width="1.4" />
<line x1="272.60" y1="902.00" x2="272.60" y2="906.20" stroke="#000" stroke-width="1.4" />
<line x1="307.80" y1="902.00" x2="307.80" y2="906.20" stroke="#000" stroke-width="1.4" />
<line x1="343.00" y1="902.00" x2="343.00" y2="906.20" stroke="#000" stroke-width="1.4" />
<line x1="372.70" y1="902.00" x2="519.40" y2="902.00" stroke="#000" stroke-width="1.4" />
<line x1="393.00" y1="902.00" x2="393.00" y2="906.20" stroke="#000" stroke-width="1.4" />
<line x1="428.20" y1="902.00" x2="428.20" y2="906.20" stroke="#000" stroke-width="1.4" />
<line x1="463.40" y1="902.00" x2="463.40" y2="906.20" stroke="#000" stroke-width="1.4" />
<line x1="498.60" y1="902.00" x2="498.60" y2="906.20" stroke="#000" stroke-width="1.4" />
<line x1="528.10" y1="902.00" x2="682.60" y2="902.00" stroke="#000" stroke-width="1.4" />
<line x1="548.90" y1="902.00" x2="548.90" y2="906.20" stroke="#000" stroke-width="1.4" />
<line x1="584.10" y1="902.00" x2="584.10" y2="906.20" stroke="#000" stroke-width="1.4" />
<line x1="619.30" y1="902.00" x2="619.30" y2="906.20" stroke="#000" stroke-width="1.4" />
<line x1="654.50" y1="902.00" x2="654.50" y2="906.20" stroke="#000" stroke-width="1.4" />
<line x1="81.80" y1="787.90" x2="81.80" y2="818.80" stroke="#000" stroke-width="1.5" />
<line x1="78.20" y1="787.90" x2="85.40" y2="787.90" stroke="#000" stroke-width="1.5" />
<line x1="78.20" y1="818.80" x2="85.40" y2="818.80" stroke="#000" stroke-width="1.5" />
<line x1="117.00" y1="736.60" x2="117.00" y2="787.90" stroke="#000" stroke-width="1.5" />
<line x1="113.40" y1="736.60" x2="120.60" y2="736.60" stroke="#000" stroke-width="1.5" />
<line x1="113.40" y1="787.90" x2="120.60" y2="787.90" stroke="#000" stroke-width="1.5" />
<line x1="152.20" y1="682.20" x2="152.20" y2="738.90" stroke="#000" stroke-width="1.5" />
<line x1="148.60" y1="682.20" x2="155.80" y2="682.20" stroke="#000" stroke-width="1.5" />
<line x1="148.60" y1="738.90" x2="155.80" y2="738.90" stroke="#000" stroke-width="1.5" />
<line x1="187.40" y1="744.70" x2="187.40" y2="804.50" stroke="#000" stroke-width="1.5" />
<line x1="183.80" y1="744.70" x2="191.00" y2="744.70" stroke="#000" stroke-width="1.5" />
<line x1="183.80" y1="804.50" x2="191.00" y2="804.50" stroke="#000" stroke-width="1.5" />
<path d="M81.80,796.40L89.10,803.30L81.80,810.20L74.50,803.30Z" fill="#00008b" stroke="#000" stroke-width="1.7" stroke-linejoin="round"/>
<circle cx="117.00" cy="762.40" r="5.55" fill="#006400" stroke="#000" stroke-width="1.7"/>
<rect x="147.30" y="705.80" width="9.80" height="9.80" fill="#ffa500" stroke="#000" stroke-width="1.7" stroke-linejoin="round"/>
<path d="M187.40,766.00L194.76,778.75L180.04,778.75Z" fill="#8b0000" stroke="#000" stroke-width="1.7" stroke-linejoin="round"/>
<path d="M237.40,761.30 L272.60,776.50 L307.80,792.40 L343.00,798.00" fill="none" stroke="#000" stroke-width="2.7" stroke-dasharray="7.2 7" stroke-linejoin="round"/>
<line x1="237.40" y1="742.50" x2="237.40" y2="780.00" stroke="#000" stroke-width="1.5" />
<line x1="233.80" y1="742.50" x2="241.00" y2="742.50" stroke="#000" stroke-width="1.5" />
<line x1="233.80" y1="780.00" x2="241.00" y2="780.00" stroke="#000" stroke-width="1.5" />
<line x1="272.60" y1="757.90" x2="272.60" y2="795.20" stroke="#000" stroke-width="1.5" />
<line x1="269.00" y1="757.90" x2="276.20" y2="757.90" stroke="#000" stroke-width="1.5" />
<line x1="269.00" y1="795.20" x2="276.20" y2="795.20" stroke="#000" stroke-width="1.5" />
<line x1="307.80" y1="771.60" x2="307.80" y2="808.80" stroke="#000" stroke-width="1.5" />
<line x1="304.20" y1="771.60" x2="311.40" y2="771.60" stroke="#000" stroke-width="1.5" />
<line x1="304.20" y1="808.80" x2="311.40" y2="808.80" stroke="#000" stroke-width="1.5" />
<line x1="343.00" y1="780.00" x2="343.00" y2="816.00" stroke="#000" stroke-width="1.5" />
<line x1="339.40" y1="780.00" x2="346.60" y2="780.00" stroke="#000" stroke-width="1.5" />
<line x1="339.40" y1="816.00" x2="346.60" y2="816.00" stroke="#000" stroke-width="1.5" />
<path d="M237.40,766.40L241.82,758.75L232.98,758.75Z" fill="#000" stroke="#000" stroke-width="1" stroke-linejoin="round"/>
<path d="M272.60,781.60L277.02,773.95L268.18,773.95Z" fill="#000" stroke="#000" stroke-width="1" stroke-linejoin="round"/>
<path d="M307.80,797.50L312.22,789.85L303.38,789.85Z" fill="#000" stroke="#000" stroke-width="1" stroke-linejoin="round"/>
<path d="M343.00,803.10L347.42,795.45L338.58,795.45Z" fill="#000" stroke="#000" stroke-width="1" stroke-linejoin="round"/>
<path d="M237.40,762.40 L272.60,747.50 L307.80,748.50 L343.00,767.20" fill="none" stroke="#006400" stroke-width="3.0" stroke-linejoin="round"/>
<line x1="237.40" y1="736.80" x2="237.40" y2="788.00" stroke="#000" stroke-width="1.5" />
<line x1="233.80" y1="736.80" x2="241.00" y2="736.80" stroke="#000" stroke-width="1.5" />
<line x1="233.80" y1="788.00" x2="241.00" y2="788.00" stroke="#000" stroke-width="1.5" />
<line x1="272.60" y1="725.80" x2="272.60" y2="768.80" stroke="#000" stroke-width="1.5" />
<line x1="269.00" y1="725.80" x2="276.20" y2="725.80" stroke="#000" stroke-width="1.5" />
<line x1="269.00" y1="768.80" x2="276.20" y2="768.80" stroke="#000" stroke-width="1.5" />
<line x1="307.80" y1="721.70" x2="307.80" y2="775.20" stroke="#000" stroke-width="1.5" />
<line x1="304.20" y1="721.70" x2="311.40" y2="721.70" stroke="#000" stroke-width="1.5" />
<line x1="304.20" y1="775.20" x2="311.40" y2="775.20" stroke="#000" stroke-width="1.5" />
<line x1="343.00" y1="748.20" x2="343.00" y2="786.20" stroke="#000" stroke-width="1.5" />
<line x1="339.40" y1="748.20" x2="346.60" y2="748.20" stroke="#000" stroke-width="1.5" />
<line x1="339.40" y1="786.20" x2="346.60" y2="786.20" stroke="#000" stroke-width="1.5" />
<circle cx="237.40" cy="762.40" r="5.55" fill="#006400" stroke="#000" stroke-width="1.7"/>
<circle cx="272.60" cy="747.50" r="5.55" fill="#006400" stroke="#000" stroke-width="1.7"/>
<circle cx="307.80" cy="748.50" r="5.55" fill="#006400" stroke="#000" stroke-width="1.7"/>
<circle cx="343.00" cy="767.20" r="5.55" fill="#006400" stroke="#000" stroke-width="1.7"/>
<text transform="translate(237.40,730.82) scale(0.87,1)" font-size="14.0" text-anchor="middle">18.0</text>
<text transform="translate(272.60,720.62) scale(0.87,1)" font-size="14.0" text-anchor="middle">17.3</text>
<text transform="translate(307.80,715.42) scale(0.87,1)" font-size="14.0" text-anchor="middle">16.7</text>
<text transform="translate(343.00,742.62) scale(0.87,1)" font-size="14.0" text-anchor="middle">16.2</text>
<path d="M393.00,701.50 L428.20,727.50 L463.40,761.50 L498.60,784.30" fill="none" stroke="#000" stroke-width="2.7" stroke-dasharray="7.2 7" stroke-linejoin="round"/>
<line x1="393.00" y1="682.60" x2="393.00" y2="719.00" stroke="#000" stroke-width="1.5" />
<line x1="389.40" y1="682.60" x2="396.60" y2="682.60" stroke="#000" stroke-width="1.5" />
<line x1="389.40" y1="719.00" x2="396.60" y2="719.00" stroke="#000" stroke-width="1.5" />
<line x1="428.20" y1="709.30" x2="428.20" y2="745.80" stroke="#000" stroke-width="1.5" />
<line x1="424.60" y1="709.30" x2="431.80" y2="709.30" stroke="#000" stroke-width="1.5" />
<line x1="424.60" y1="745.80" x2="431.80" y2="745.80" stroke="#000" stroke-width="1.5" />
<line x1="463.40" y1="740.40" x2="463.40" y2="781.50" stroke="#000" stroke-width="1.5" />
<line x1="459.80" y1="740.40" x2="467.00" y2="740.40" stroke="#000" stroke-width="1.5" />
<line x1="459.80" y1="781.50" x2="467.00" y2="781.50" stroke="#000" stroke-width="1.5" />
<line x1="498.60" y1="765.40" x2="498.60" y2="803.10" stroke="#000" stroke-width="1.5" />
<line x1="495.00" y1="765.40" x2="502.20" y2="765.40" stroke="#000" stroke-width="1.5" />
<line x1="495.00" y1="803.10" x2="502.20" y2="803.10" stroke="#000" stroke-width="1.5" />
<path d="M393.00,706.60L397.42,698.95L388.58,698.95Z" fill="#000" stroke="#000" stroke-width="1" stroke-linejoin="round"/>
<path d="M428.20,732.60L432.62,724.95L423.78,724.95Z" fill="#000" stroke="#000" stroke-width="1" stroke-linejoin="round"/>
<path d="M463.40,766.60L467.82,758.95L458.98,758.95Z" fill="#000" stroke="#000" stroke-width="1" stroke-linejoin="round"/>
<path d="M498.60,789.40L503.02,781.75L494.18,781.75Z" fill="#000" stroke="#000" stroke-width="1" stroke-linejoin="round"/>
<path d="M393.00,710.50 L428.20,724.00 L463.40,761.50 L498.60,777.00" fill="none" stroke="#ffa500" stroke-width="3.0" stroke-linejoin="round"/>
<line x1="393.00" y1="682.30" x2="393.00" y2="739.00" stroke="#000" stroke-width="1.5" />
<line x1="389.40" y1="682.30" x2="396.60" y2="682.30" stroke="#000" stroke-width="1.5" />
<line x1="389.40" y1="739.00" x2="396.60" y2="739.00" stroke="#000" stroke-width="1.5" />
<line x1="428.20" y1="714.10" x2="428.20" y2="733.90" stroke="#000" stroke-width="1.5" />
<line x1="424.60" y1="714.10" x2="431.80" y2="714.10" stroke="#000" stroke-width="1.5" />
<line x1="424.60" y1="733.90" x2="431.80" y2="733.90" stroke="#000" stroke-width="1.5" />
<line x1="463.40" y1="742.00" x2="463.40" y2="779.80" stroke="#000" stroke-width="1.5" />
<line x1="459.80" y1="742.00" x2="467.00" y2="742.00" stroke="#000" stroke-width="1.5" />
<line x1="459.80" y1="779.80" x2="467.00" y2="779.80" stroke="#000" stroke-width="1.5" />
<line x1="498.60" y1="757.40" x2="498.60" y2="796.60" stroke="#000" stroke-width="1.5" />
<line x1="495.00" y1="757.40" x2="502.20" y2="757.40" stroke="#000" stroke-width="1.5" />
<line x1="495.00" y1="796.60" x2="502.20" y2="796.60" stroke="#000" stroke-width="1.5" />
<rect x="388.10" y="705.60" width="9.80" height="9.80" fill="#ffa500" stroke="#000" stroke-width="1.7" stroke-linejoin="round"/>
<rect x="423.30" y="719.10" width="9.80" height="9.80" fill="#ffa500" stroke="#000" stroke-width="1.7" stroke-linejoin="round"/>
<rect x="458.50" y="756.60" width="9.80" height="9.80" fill="#ffa500" stroke="#000" stroke-width="1.7" stroke-linejoin="round"/>
<rect x="493.70" y="772.10" width="9.80" height="9.80" fill="#ffa500" stroke="#000" stroke-width="1.7" stroke-linejoin="round"/>
<text transform="translate(393.00,676.12) scale(0.87,1)" font-size="14.0" text-anchor="middle">21.0</text>
<text transform="translate(427.40,703.32) scale(0.87,1)" font-size="14.0" text-anchor="middle">19.3</text>
<text transform="translate(463.40,734.92) scale(0.87,1)" font-size="14.0" text-anchor="middle">18.0</text>
<text transform="translate(498.60,751.22) scale(0.87,1)" font-size="14.0" text-anchor="middle">17.0</text>
<path d="M548.90,772.80 L584.10,699.70 L619.30,729.00 L654.50,764.70" fill="none" stroke="#000" stroke-width="2.7" stroke-dasharray="7.2 7" stroke-linejoin="round"/>
<line x1="548.90" y1="754.40" x2="548.90" y2="791.20" stroke="#000" stroke-width="1.5" />
<line x1="545.30" y1="754.40" x2="552.50" y2="754.40" stroke="#000" stroke-width="1.5" />
<line x1="545.30" y1="791.20" x2="552.50" y2="791.20" stroke="#000" stroke-width="1.5" />
<line x1="584.10" y1="681.40" x2="584.10" y2="718.00" stroke="#000" stroke-width="1.5" />
<line x1="580.50" y1="681.40" x2="587.70" y2="681.40" stroke="#000" stroke-width="1.5" />
<line x1="580.50" y1="718.00" x2="587.70" y2="718.00" stroke="#000" stroke-width="1.5" />
<line x1="619.30" y1="711.10" x2="619.30" y2="746.70" stroke="#000" stroke-width="1.5" />
<line x1="615.70" y1="711.10" x2="622.90" y2="711.10" stroke="#000" stroke-width="1.5" />
<line x1="615.70" y1="746.70" x2="622.90" y2="746.70" stroke="#000" stroke-width="1.5" />
<line x1="654.50" y1="745.80" x2="654.50" y2="783.50" stroke="#000" stroke-width="1.5" />
<line x1="650.90" y1="745.80" x2="658.10" y2="745.80" stroke="#000" stroke-width="1.5" />
<line x1="650.90" y1="783.50" x2="658.10" y2="783.50" stroke="#000" stroke-width="1.5" />
<path d="M548.90,777.90L553.32,770.25L544.48,770.25Z" fill="#000" stroke="#000" stroke-width="1" stroke-linejoin="round"/>
<path d="M584.10,704.80L588.52,697.15L579.68,697.15Z" fill="#000" stroke="#000" stroke-width="1" stroke-linejoin="round"/>
<path d="M619.30,734.10L623.72,726.45L614.88,726.45Z" fill="#000" stroke="#000" stroke-width="1" stroke-linejoin="round"/>
<path d="M654.50,769.80L658.92,762.15L650.08,762.15Z" fill="#000" stroke="#000" stroke-width="1" stroke-linejoin="round"/>
<path d="M548.90,774.80 L584.10,815.30 L619.30,787.00 L654.50,775.00" fill="none" stroke="#8b0000" stroke-width="3.0" stroke-linejoin="round"/>
<line x1="548.90" y1="745.20" x2="548.90" y2="804.30" stroke="#000" stroke-width="1.5" />
<line x1="545.30" y1="745.20" x2="552.50" y2="745.20" stroke="#000" stroke-width="1.5" />
<line x1="545.30" y1="804.30" x2="552.50" y2="804.30" stroke="#000" stroke-width="1.5" />
<line x1="584.10" y1="796.00" x2="584.10" y2="834.50" stroke="#000" stroke-width="1.5" />
<line x1="580.50" y1="796.00" x2="587.70" y2="796.00" stroke="#000" stroke-width="1.5" />
<line x1="580.50" y1="834.50" x2="587.70" y2="834.50" stroke="#000" stroke-width="1.5" />
<line x1="619.30" y1="775.40" x2="619.30" y2="798.40" stroke="#000" stroke-width="1.5" />
<line x1="615.70" y1="775.40" x2="622.90" y2="775.40" stroke="#000" stroke-width="1.5" />
<line x1="615.70" y1="798.40" x2="622.90" y2="798.40" stroke="#000" stroke-width="1.5" />
<line x1="654.50" y1="748.50" x2="654.50" y2="801.50" stroke="#000" stroke-width="1.5" />
<line x1="650.90" y1="748.50" x2="658.10" y2="748.50" stroke="#000" stroke-width="1.5" />
<line x1="650.90" y1="801.50" x2="658.10" y2="801.50" stroke="#000" stroke-width="1.5" />
<path d="M548.90,766.30L556.26,779.05L541.54,779.05Z" fill="#8b0000" stroke="#000" stroke-width="1.7" stroke-linejoin="round"/>
<path d="M584.10,806.80L591.46,819.55L576.74,819.55Z" fill="#8b0000" stroke="#000" stroke-width="1.7" stroke-linejoin="round"/>
<path d="M619.30,778.50L626.66,791.25L611.94,791.25Z" fill="#8b0000" stroke="#000" stroke-width="1.7" stroke-linejoin="round"/>
<path d="M654.50,766.50L661.86,779.25L647.14,779.25Z" fill="#8b0000" stroke="#000" stroke-width="1.7" stroke-linejoin="round"/>
<text transform="translate(548.90,738.22) scale(0.87,1)" font-size="14.0" text-anchor="middle">24.0</text>
<text transform="translate(584.10,676.52) scale(0.87,1)" font-size="14.0" text-anchor="middle">21.5</text>
<text transform="translate(619.30,706.22) scale(0.87,1)" font-size="14.0" text-anchor="middle">19.3</text>
<text transform="translate(654.50,739.92) scale(0.87,1)" font-size="14.0" text-anchor="middle">17.9</text>
<text transform="translate(575.60,790.39) scale(0.82,1)" font-size="18.0" text-anchor="middle" fill="#222">*</text>
<text transform="translate(584.10,790.39) scale(0.82,1)" font-size="18.0" text-anchor="middle" fill="#222">*</text>
<text transform="translate(592.60,790.39) scale(0.82,1)" font-size="18.0" text-anchor="middle" fill="#222">*</text>
<text transform="translate(619.30,769.49) scale(0.82,1)" font-size="18.0" text-anchor="middle" fill="#222">*</text>
<text transform="translate(81.20,920.9) scale(0.93,1)" font-size="16.2" text-anchor="middle">15</text>
<text transform="translate(116.40,920.9) scale(0.93,1)" font-size="16.2" text-anchor="middle">18</text>
<text transform="translate(151.60,920.9) scale(0.93,1)" font-size="16.2" text-anchor="middle">21</text>
<text transform="translate(186.80,920.9) scale(0.93,1)" font-size="16.2" text-anchor="middle">24</text>
<text transform="translate(236.80,920.9) scale(0.93,1)" font-size="16.2" text-anchor="middle">0</text>
<text transform="translate(272.00,920.9) scale(0.93,1)" font-size="16.2" text-anchor="middle">5</text>
<text transform="translate(307.20,920.9) scale(0.93,1)" font-size="16.2" text-anchor="middle">10</text>
<text transform="translate(342.40,920.9) scale(0.93,1)" font-size="16.2" text-anchor="middle">15</text>
<text transform="translate(392.40,920.9) scale(0.93,1)" font-size="16.2" text-anchor="middle">0</text>
<text transform="translate(427.60,920.9) scale(0.93,1)" font-size="16.2" text-anchor="middle">5</text>
<text transform="translate(462.80,920.9) scale(0.93,1)" font-size="16.2" text-anchor="middle">10</text>
<text transform="translate(498.00,920.9) scale(0.93,1)" font-size="16.2" text-anchor="middle">15</text>
<text transform="translate(548.30,920.9) scale(0.93,1)" font-size="16.2" text-anchor="middle">0</text>
<text transform="translate(583.50,920.9) scale(0.93,1)" font-size="16.2" text-anchor="middle">5</text>
<text transform="translate(618.70,920.9) scale(0.93,1)" font-size="16.2" text-anchor="middle">10</text>
<text transform="translate(653.90,920.9) scale(0.93,1)" font-size="16.2" text-anchor="middle">15</text>
<circle cx="80.60" cy="938.80" r="12.2" fill="#00008b"/>
<line x1="80.60" y1="951.00" x2="80.60" y2="926.60" stroke="#fff" stroke-width="0.9" stroke-opacity="0.85"/>
<line x1="70.03" y1="944.90" x2="91.17" y2="932.70" stroke="#fff" stroke-width="0.9" stroke-opacity="0.85"/>
<line x1="91.17" y1="944.90" x2="70.03" y2="932.70" stroke="#fff" stroke-width="0.9" stroke-opacity="0.85"/>
<circle cx="114.90" cy="938.80" r="12.2" fill="#006400"/>
<line x1="114.90" y1="951.00" x2="114.90" y2="926.60" stroke="#fff" stroke-width="0.9" stroke-opacity="0.85"/>
<line x1="104.33" y1="944.90" x2="125.47" y2="932.70" stroke="#fff" stroke-width="0.9" stroke-opacity="0.85"/>
<line x1="125.47" y1="944.90" x2="104.33" y2="932.70" stroke="#fff" stroke-width="0.9" stroke-opacity="0.85"/>
<circle cx="150.35" cy="938.80" r="12.2" fill="#ffa500"/>
<line x1="150.35" y1="951.00" x2="150.35" y2="926.60" stroke="#fff" stroke-width="0.9" stroke-opacity="0.85"/>
<line x1="139.78" y1="944.90" x2="160.92" y2="932.70" stroke="#fff" stroke-width="0.9" stroke-opacity="0.85"/>
<line x1="160.92" y1="944.90" x2="139.78" y2="932.70" stroke="#fff" stroke-width="0.9" stroke-opacity="0.85"/>
<circle cx="186.60" cy="938.80" r="12.2" fill="#8b0000"/>
<line x1="186.60" y1="951.00" x2="186.60" y2="926.60" stroke="#fff" stroke-width="0.9" stroke-opacity="0.85"/>
<line x1="176.03" y1="944.90" x2="197.17" y2="932.70" stroke="#fff" stroke-width="0.9" stroke-opacity="0.85"/>
<line x1="197.17" y1="944.90" x2="176.03" y2="932.70" stroke="#fff" stroke-width="0.9" stroke-opacity="0.85"/>
<circle cx="237.00" cy="938.80" r="12.2" fill="#006400"/>
<line x1="237.00" y1="951.00" x2="237.00" y2="926.60" stroke="#fff" stroke-width="0.9" stroke-opacity="0.85"/>
<line x1="226.43" y1="944.90" x2="247.57" y2="932.70" stroke="#fff" stroke-width="0.9" stroke-opacity="0.85"/>
<line x1="247.57" y1="944.90" x2="226.43" y2="932.70" stroke="#fff" stroke-width="0.9" stroke-opacity="0.85"/>
<circle cx="271.60" cy="938.80" r="12.2" fill="#006400"/>
<path d="M271.60,938.80 L271.60,926.60 A12.2,12.2 0 0 1 282.17,932.70 Z" fill="#00008b"/>
<line x1="271.60" y1="951.00" x2="271.60" y2="926.60" stroke="#fff" stroke-width="0.9" stroke-opacity="0.85"/>
<line x1="261.03" y1="944.90" x2="282.17" y2="932.70" stroke="#fff" stroke-width="0.9" stroke-opacity="0.85"/>
<line x1="282.17" y1="944.90" x2="261.03" y2="932.70" stroke="#fff" stroke-width="0.9" stroke-opacity="0.85"/>
<circle cx="307.00" cy="938.80" r="12.2" fill="#0c5e2e"/>
<path d="M307.00,938.80 L307.00,926.60 A12.2,12.2 0 0 1 317.57,944.90 Z" fill="#00008b"/>
<line x1="307.00" y1="951.00" x2="307.00" y2="926.60" stroke="#fff" stroke-width="0.9" stroke-opacity="0.85"/>
<line x1="296.43" y1="944.90" x2="317.57" y2="932.70" stroke="#fff" stroke-width="0.9" stroke-opacity="0.85"/>
<line x1="317.57" y1="944.90" x2="296.43" y2="932.70" stroke="#fff" stroke-width="0.9" stroke-opacity="0.85"/>
<circle cx="342.60" cy="938.80" r="12.2" fill="#006400"/>
<path d="M342.60,938.80 L342.60,926.60 A12.2,12.2 0 0 1 342.60,951.00 Z" fill="#00008b"/>
<line x1="342.60" y1="951.00" x2="342.60" y2="926.60" stroke="#fff" stroke-width="0.9" stroke-opacity="0.85"/>
<line x1="332.03" y1="944.90" x2="353.17" y2="932.70" stroke="#fff" stroke-width="0.9" stroke-opacity="0.85"/>
<line x1="353.17" y1="944.90" x2="332.03" y2="932.70" stroke="#fff" stroke-width="0.9" stroke-opacity="0.85"/>
<circle cx="392.60" cy="938.80" r="12.2" fill="#ffa500"/>
<line x1="392.60" y1="951.00" x2="392.60" y2="926.60" stroke="#fff" stroke-width="0.9" stroke-opacity="0.85"/>
<line x1="382.03" y1="944.90" x2="403.17" y2="932.70" stroke="#fff" stroke-width="0.9" stroke-opacity="0.85"/>
<line x1="403.17" y1="944.90" x2="382.03" y2="932.70" stroke="#fff" stroke-width="0.9" stroke-opacity="0.85"/>
<circle cx="428.30" cy="938.80" r="12.2" fill="#ffa500"/>
<path d="M428.30,938.80 L428.30,926.60 A12.2,12.2 0 0 1 438.87,932.70 Z" fill="#00008b"/>
<line x1="428.30" y1="951.00" x2="428.30" y2="926.60" stroke="#fff" stroke-width="0.9" stroke-opacity="0.85"/>
<line x1="417.73" y1="944.90" x2="438.87" y2="932.70" stroke="#fff" stroke-width="0.9" stroke-opacity="0.85"/>
<line x1="438.87" y1="944.90" x2="417.73" y2="932.70" stroke="#fff" stroke-width="0.9" stroke-opacity="0.85"/>
<circle cx="462.80" cy="938.80" r="12.2" fill="#ffa500"/>
<path d="M462.80,938.80 L462.80,926.60 A12.2,12.2 0 0 1 473.37,944.90 Z" fill="#00008b"/>
<line x1="462.80" y1="951.00" x2="462.80" y2="926.60" stroke="#fff" stroke-width="0.9" stroke-opacity="0.85"/>
<line x1="452.23" y1="944.90" x2="473.37" y2="932.70" stroke="#fff" stroke-width="0.9" stroke-opacity="0.85"/>
<line x1="473.37" y1="944.90" x2="452.23" y2="932.70" stroke="#fff" stroke-width="0.9" stroke-opacity="0.85"/>
<circle cx="498.60" cy="938.80" r="12.2" fill="#ffa500"/>
<path d="M498.60,938.80 L498.60,926.60 A12.2,12.2 0 0 1 498.60,951.00 Z" fill="#00008b"/>
<line x1="498.60" y1="951.00" x2="498.60" y2="926.60" stroke="#fff" stroke-width="0.9" stroke-opacity="0.85"/>
<line x1="488.03" y1="944.90" x2="509.17" y2="932.70" stroke="#fff" stroke-width="0.9" stroke-opacity="0.85"/>
<line x1="509.17" y1="944.90" x2="488.03" y2="932.70" stroke="#fff" stroke-width="0.9" stroke-opacity="0.85"/>
<circle cx="549.10" cy="938.80" r="12.2" fill="#8b0000"/>
<line x1="549.10" y1="951.00" x2="549.10" y2="926.60" stroke="#fff" stroke-width="0.9" stroke-opacity="0.85"/>
<line x1="538.53" y1="944.90" x2="559.67" y2="932.70" stroke="#fff" stroke-width="0.9" stroke-opacity="0.85"/>
<line x1="559.67" y1="944.90" x2="538.53" y2="932.70" stroke="#fff" stroke-width="0.9" stroke-opacity="0.85"/>
<circle cx="583.60" cy="938.80" r="12.2" fill="#8b0000"/>
<path d="M583.60,938.80 L583.60,926.60 A12.2,12.2 0 0 1 594.17,932.70 Z" fill="#00008b"/>
<line x1="583.60" y1="951.00" x2="583.60" y2="926.60" stroke="#fff" stroke-width="0.9" stroke-opacity="0.85"/>
<line x1="573.03" y1="944.90" x2="594.17" y2="932.70" stroke="#fff" stroke-width="0.9" stroke-opacity="0.85"/>
<line x1="594.17" y1="944.90" x2="573.03" y2="932.70" stroke="#fff" stroke-width="0.9" stroke-opacity="0.85"/>
<circle cx="619.10" cy="938.80" r="12.2" fill="#8b0000"/>
<path d="M619.10,938.80 L619.10,926.60 A12.2,12.2 0 0 1 629.67,944.90 Z" fill="#00008b"/>
<line x1="619.10" y1="951.00" x2="619.10" y2="926.60" stroke="#fff" stroke-width="0.9" stroke-opacity="0.85"/>
<line x1="608.53" y1="944.90" x2="629.67" y2="932.70" stroke="#fff" stroke-width="0.9" stroke-opacity="0.85"/>
<line x1="629.67" y1="944.90" x2="608.53" y2="932.70" stroke="#fff" stroke-width="0.9" stroke-opacity="0.85"/>
<circle cx="653.60" cy="938.80" r="12.2" fill="#8b0000"/>
<path d="M653.60,938.80 L653.60,926.60 A12.2,12.2 0 0 1 653.60,951.00 Z" fill="#00008b"/>
<line x1="653.60" y1="951.00" x2="653.60" y2="926.60" stroke="#fff" stroke-width="0.9" stroke-opacity="0.85"/>
<line x1="643.03" y1="944.90" x2="664.17" y2="932.70" stroke="#fff" stroke-width="0.9" stroke-opacity="0.85"/>
<line x1="664.17" y1="944.90" x2="643.03" y2="932.70" stroke="#fff" stroke-width="0.9" stroke-opacity="0.85"/>
<text x="135.60" y="972.00" font-size="17.2" text-anchor="middle" >T°C</text>
<text x="446.70" y="972.00" font-size="17.2" text-anchor="middle" >Timing of warm presses</text>
<text x="0" y="0" font-size="17.2" text-anchor="middle" transform="translate(21.60,175.20) rotate(-90)">Survival rate</text>
<text x="0" y="0" font-size="17.2" text-anchor="middle" transform="translate(21.60,469.20) rotate(-90)">Development duration (days)</text>
<text x="0" y="0" font-size="17.2" text-anchor="middle" transform="translate(21.60,765.60) rotate(-90)">Dry mass (µg)</text>
</svg></body></html>
